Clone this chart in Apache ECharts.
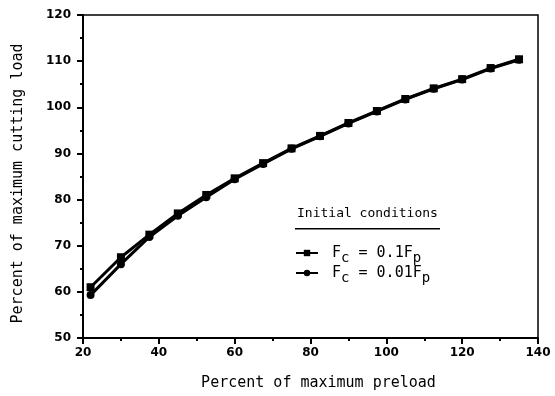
<!DOCTYPE html>
<html>
<head>
<meta charset="utf-8">
<script src="https://cdn.jsdelivr.net/npm/echarts@6/dist/echarts.min.js"></script>
<style>
  html, body { margin: 0; padding: 0; background: #fff; }
  #chart { width: 555px; height: 396px; }
</style>
</head>
<body>
<div id="chart"></div>
<script>
// percent of maximum preload
var preload = [22, 30, 37.5, 45, 52.5, 60, 67.5, 75, 82.5, 90, 97.5, 105, 112.5, 120, 127.5, 135];
// Fc = 0.1Fp (squares)
var loadSquare = [61.0, 67.5, 72.4, 77.0, 81.0, 84.6, 87.9, 91.1, 93.8, 96.6, 99.2, 101.8, 104.1, 106.1, 108.5, 110.4];
// Fc = 0.01Fp (circles)
var loadCircle = [59.3, 66.0, 71.9, 76.5, 80.5, 84.4, 87.7, 91.0, 93.7, 96.5, 99.1, 101.7, 104.0, 106.0, 108.4, 110.3];

var names = ['Fc = 0.1Fp', 'Fc = 0.01Fp'];

function pairs(xs, ys) {
  var out = [];
  for (var i = 0; i < xs.length; i++) out.push([xs[i], ys[i]]);
  return out;
}

var font = 'DejaVu Sans';
var mono = 'DejaVu Sans Mono';
var myChart = echarts.init(document.getElementById('chart'));

var axisCommon = {
  axisLine: { show: true, onZero: false, lineStyle: { color: '#000', width: 2 } },
  axisTick: { show: true, length: 6, lineStyle: { color: '#000', width: 2 } },
  minorTick: { show: true, splitNumber: 2, length: 3, lineStyle: { color: '#000', width: 2 } },
  splitLine: { show: false },
  axisLabel: { color: '#000', fontFamily: font, fontWeight: 'bold', fontSize: 12 }
};

var option = {
  backgroundColor: '#fff',
  animation: false,
  grid: {
    left: 83, top: 15, right: 17, bottom: 58,
    show: true, borderColor: '#000', borderWidth: 1.5
  },
  xAxis: Object.assign({}, axisCommon, {
    type: 'value',
    min: 20, max: 140, interval: 20,
    name: 'Percent of maximum preload',
    nameLocation: 'middle',
    nameGap: 38,
    nameTextStyle: { color: '#000', fontFamily: mono, fontSize: 15, padding: [0, 0, 0, 16] },
    axisLabel: Object.assign({}, axisCommon.axisLabel, { margin: 9 })
  }),
  yAxis: Object.assign({}, axisCommon, {
    type: 'value',
    min: 50, max: 120, interval: 10,
    name: 'Percent of maximum cutting load',
    nameLocation: 'middle',
    nameGap: 57,
    nameTextStyle: { color: '#000', fontFamily: mono, fontSize: 15, padding: [0, 14, 0, 0] },
    axisLabel: Object.assign({}, axisCommon.axisLabel, { margin: 12 })
  }),
  legend: {
    orient: 'vertical',
    left: 290, top: 236,
    itemWidth: 22, itemHeight: 8,
    itemGap: -4,
    data: names,
    formatter: function (n) {
      return n === names[0]
        ? '{f| F}{s|c}{f| = 0.1F}{s|p}'
        : '{f| F}{s|c}{f| = 0.01F}{s|p}';
    },
    textStyle: {
      color: '#000', fontFamily: mono, fontSize: 15,
      rich: {
        f: { fontFamily: mono, fontSize: 15, color: '#000', lineHeight: 16 },
        s: { fontFamily: mono, fontSize: 14, color: '#000', lineHeight: 16, padding: [10, 0, 0, 0] }
      }
    }
  },
  graphic: [
    {
      type: 'text', left: 297, top: 207,
      style: { text: 'Initial conditions', fill: '#000', font: '13px "DejaVu Sans Mono"' }
    },
    {
      type: 'rect', left: 295, top: 228,
      shape: { width: 145, height: 1.5 },
      style: { fill: '#000' }
    }
  ],
  series: [
    {
      name: names[0], type: 'line',
      data: pairs(preload, loadSquare),
      symbol: 'rect', symbolSize: 8,
      lineStyle: { color: '#000', width: 3 },
      itemStyle: { color: '#000' }
    },
    {
      name: names[1], type: 'line',
      data: pairs(preload, loadCircle),
      symbol: 'circle', symbolSize: 8,
      lineStyle: { color: '#000', width: 3 },
      itemStyle: { color: '#000' }
    }
  ]
};

option && myChart.setOption(option);
</script>
</body>
</html>
